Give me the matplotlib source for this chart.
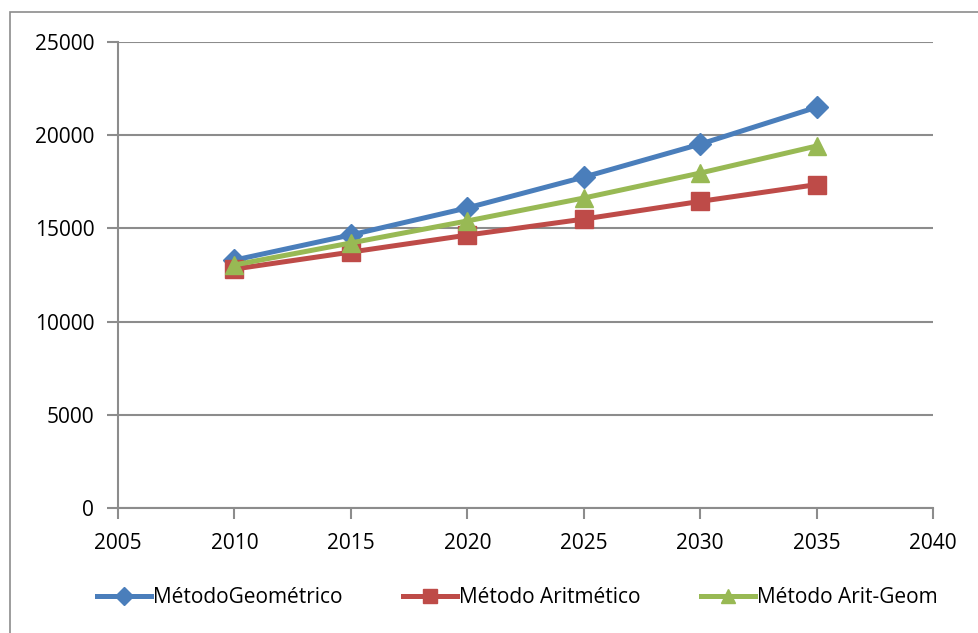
import matplotlib.pyplot as plt
from matplotlib.patches import Rectangle

years = [2010, 2015, 2020, 2025, 2030, 2035]
geometrico = [13300, 14650, 16100, 17750, 19520, 21500]
aritmetico = [12820, 13730, 14640, 15500, 16450, 17350]
arit_geom = [13040, 14220, 15400, 16630, 17970, 19420]

plt.rcParams['font.family'] = ['Open Sans', 'DejaVu Sans']

fig = plt.figure(figsize=(9.79, 6.33), dpi=100)
ax = fig.add_axes([0.1205, 0.1975, 0.8325, 0.7361])

# outer chart border (right and bottom edges run off the canvas)
fig.patches.append(Rectangle((10 / 979, -0.1), 1.2, (633 - 12) / 633 + 0.1,
                             transform=fig.transFigure, fill=False,
                             edgecolor='#8c8c8c', linewidth=1.2))

ax.plot(years, geometrico, color='#4A7EBB', lw=3.6, marker='D', ms=11,
        label='MétodoGeométrico', zorder=3)
ax.plot(years, aritmetico, color='#BE4B48', lw=3.6, marker='s', ms=13,
        label='Método Aritmético', zorder=3)
ax.plot(years, arit_geom, color='#98B954', lw=3.6, marker='^', ms=13,
        label='Método Arit-Geom', zorder=4)

ax.set_xlim(2005, 2040)
ax.set_ylim(0, 25000)
ax.set_xticks(range(2005, 2041, 5))
ax.set_yticks(range(0, 25001, 5000))
ax.yaxis.grid(True, color='#8c8c8c', lw=1.5)
ax.set_axisbelow(True)

for s in ['top', 'right']:
    ax.spines[s].set_visible(False)
for s in ['left', 'bottom']:
    ax.spines[s].set_color('#8c8c8c')
    ax.spines[s].set_linewidth(1.5)
ax.tick_params(axis='both', colors='#8c8c8c', width=1.5, length=8,
               labelcolor='black', labelsize=15)
ax.tick_params(axis='y', pad=9)
ax.tick_params(axis='x', pad=10)

ax.legend(loc='center', bbox_to_anchor=(0.49, -0.192), ncol=3, frameon=False,
          fontsize=15, handlelength=2.6, handletextpad=0.1, columnspacing=2.9,
          markerscale=0.8)

fig.savefig('out.png', dpi=100)
